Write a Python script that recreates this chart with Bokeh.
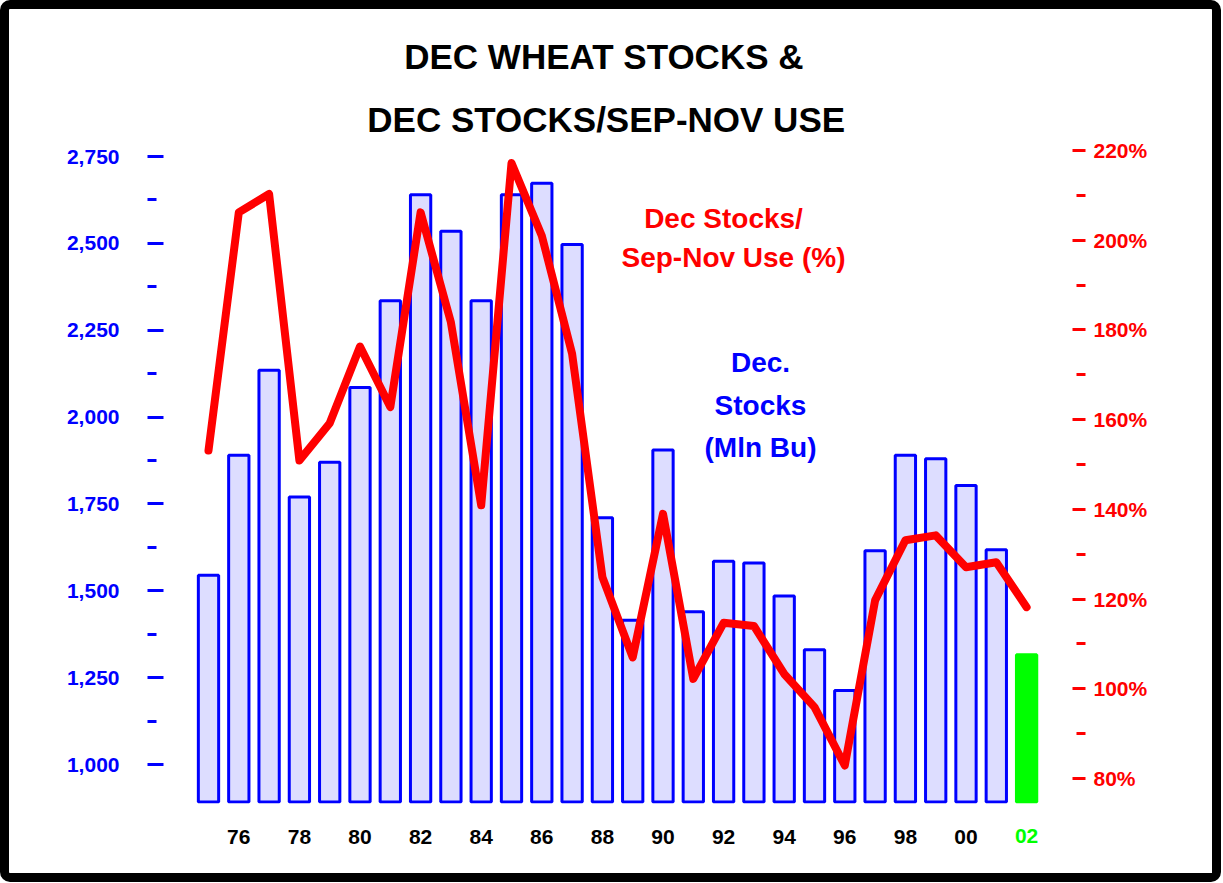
from bokeh.plotting import figure
from bokeh.models import (Range1d, LinearAxis, FixedTicker, NumeralTickFormatter,
                          PrintfTickFormatter, Label, Title)
from bokeh.embed import file_html
from bokeh.resources import INLINE

# ---------------- data ----------------
years = list(range(1975, 2003))
dec_stocks = [1545, 1890, 2135, 1770, 1870, 2085, 2335, 2640, 2535, 2335,
              2640, 2673, 2497, 1710, 1415, 1905, 1440, 1585, 1580, 1485,
              1330, 1213, 1615, 1890, 1880, 1803, 1618, 1316]
stocks_use_pct = [153.1, 206.2, 210.3, 150.9, 159.2, 176.3, 162.8, 206.2, 181.7, 140.9,
                  217.2, 201.0, 174.7, 124.9, 107.0, 139.0, 102.2, 114.7, 114.0, 103.3,
                  95.9, 82.9, 119.7, 133.1, 134.2, 127.1, 128.2, 118.2]
year_ticks = list(range(1976, 2003, 2))
year_tick_labels = ["76", "78", "80", "82", "84", "86", "88", "90",
                    "92", "94", "96", "98", "00", "02"]
stock_ticks = list(range(1000, 2751, 250))
stock_minor_ticks = list(range(1125, 2626, 250))
pct_ticks = list(range(80, 221, 20))
pct_minor_ticks = list(range(90, 211, 20))
title_lines = ["DEC WHEAT STOCKS &", "DEC STOCKS/SEP-NOV USE"]
red_note = ["Dec Stocks/", "Sep-Nov Use (%)"]
blue_note = ["Dec.", "Stocks", "(Mln Bu)"]

# ---------------- geometry (page pixels) ----------------
B = 9                       # black frame border width
W, H = 1203, 864            # figure size (inside the border)
OX, OY = B, B               # canvas origin on the page
CW, CH = W + 2 * B, H + 2 * B
FL, FR, FT, FB = 163, 1072, 140, 803  # frame edges on the page
YEAR0_PX, PX_PER_YEAR = 208.0, 30.3
L_PX_1000, L_PX_2750 = 764.0, 156.0
R_PX_80, R_PX_220 = 778.0, 150.0

kl = (L_PX_1000 - L_PX_2750) / 1750.0
kr = (R_PX_80 - R_PX_220) / 140.0

def dx(px):
    return 1975 + (px - YEAR0_PX) / PX_PER_YEAR

def dy(py):
    return 1000 + (L_PX_1000 - py) / kl

x_range = Range1d(dx(FL), dx(FR))
y_range = Range1d(dy(FB), dy(FT))
pct_range = Range1d(80 - (FB - R_PX_80) / kr, 80 + (R_PX_80 - FT) / kr)

FONT = "Liberation Sans"
BLUE = "#0000FF"
RED = "#FF0000"
GREEN = "#00FF00"
AX_FS = "21px"

p = figure(width=W, height=H, x_range=x_range, y_range=y_range,
           output_backend="svg", toolbar_location=None,
           min_border_left=FL - OX, min_border_right=(OX + CW) - FR,
           min_border_top=FT - OY, min_border_bottom=(OY + CH) - FB,
           styles={"border": f"{B}px solid black", "border-radius": "10px",
                   "box-sizing": "content-box"})
p.extra_y_ranges = {"pct": pct_range}
p.outline_line_color = None
p.xgrid.visible = False
p.ygrid.visible = False
p.background_fill_color = "white"
p.border_fill_color = "white"

# titles: p.title sits farthest from the frame, the added Title nearest
TITLE_PX = 35
title_w = [11.5 * TITLE_PX, 13.669 * TITLE_PX]   # Arial-bold metric widths
p.title.text = title_lines[0]
p.title.align = "left"
p.title.offset = 605 - title_w[0] / 2 - FL
p.title.standoff = 40
p.title.text_font = FONT
p.title.text_font_style = "bold"
p.title.text_font_size = f"{TITLE_PX}px"
p.title.text_color = "black"
p.add_layout(Title(text=title_lines[1], align="left", offset=606 - title_w[1] / 2 - FL,
                   standoff=4, text_font=FONT, text_font_style="bold",
                   text_font_size=f"{TITLE_PX}px", text_color="black"), "above")

# bars
base = dy(801.5)
p.vbar(x=years[:-1], top=dec_stocks[:-1], bottom=base, width=0.67,
       fill_color="#DDDDFF", line_color=BLUE, line_width=3)
p.vbar(x=years[-1:], top=dec_stocks[-1:], bottom=base, width=0.67,
       fill_color=GREEN, line_color=GREEN, line_width=3)

# line
p.line(years, stocks_use_pct, y_range_name="pct", line_color=RED, line_width=8,
       line_join="round", line_cap="round")

# left axis
ya = p.yaxis[0]
ya.ticker = FixedTicker(ticks=stock_ticks, minor_ticks=stock_minor_ticks)
ya.formatter = NumeralTickFormatter(format="0,0")
ya.axis_line_color = None
ya.major_tick_line_color = BLUE
ya.major_tick_line_width = 3
ya.major_tick_in = 0
ya.major_tick_out = 16
ya.minor_tick_line_color = BLUE
ya.minor_tick_line_width = 3
ya.minor_tick_in = -7
ya.minor_tick_out = 16
ya.major_label_standoff = 28
ya.major_label_text_font = FONT
ya.major_label_text_font_style = "bold"
ya.major_label_text_font_size = AX_FS
ya.major_label_text_color = BLUE

# right axis
ra = LinearAxis(y_range_name="pct",
                ticker=FixedTicker(ticks=pct_ticks, minor_ticks=pct_minor_ticks),
                formatter=PrintfTickFormatter(format="%d%%"))
ra.axis_line_color = None
ra.major_tick_line_color = RED
ra.major_tick_line_width = 3
ra.major_tick_in = 0
ra.major_tick_out = 13
ra.minor_tick_line_color = RED
ra.minor_tick_line_width = 3
ra.minor_tick_in = -4
ra.minor_tick_out = 13
ra.major_label_standoff = 8
ra.major_label_text_font = FONT
ra.major_label_text_font_style = "bold"
ra.major_label_text_font_size = AX_FS
ra.major_label_text_color = RED
p.add_layout(ra, "right")

# bottom axes
def style_x(ax, color, standoff):
    ax.axis_line_color = None
    ax.major_tick_line_color = None
    ax.minor_tick_line_color = None
    ax.major_tick_in = 0
    ax.major_tick_out = 0
    ax.minor_tick_in = 0
    ax.minor_tick_out = 0
    ax.major_label_standoff = standoff
    ax.major_label_text_font = FONT
    ax.major_label_text_font_style = "bold"
    ax.major_label_text_font_size = AX_FS
    ax.major_label_text_color = color

X_STANDOFF = 26
xa = p.xaxis[0]
xa.ticker = FixedTicker(ticks=year_ticks[:-1], minor_ticks=[])
xa.major_label_overrides = {t: lab for t, lab in zip(year_ticks[:-1], year_tick_labels[:-1])}
style_x(xa, "#000000", X_STANDOFF)

# current year label (green): second axis stacked below, pulled back up
xb = LinearAxis(ticker=FixedTicker(ticks=year_ticks[-1:], minor_ticks=[]))
xb.major_label_overrides = {year_ticks[-1]: year_tick_labels[-1]}
style_x(xb, GREEN, -18)
p.add_layout(xb, "below")

# in-plot notes
for txt, (cx, cy) in zip(red_note, [(723, 218), (733, 257)]):
    p.add_layout(Label(x=dx(cx), y=dy(cy), text=txt, text_align="center",
                       text_baseline="middle", text_font=FONT, text_font_style="bold",
                       text_font_size="28px", text_color=RED))

for txt, (cx, cy) in zip(blue_note, [(760, 362), (760, 405), (760, 447)]):
    p.add_layout(Label(x=dx(cx), y=dy(cy), text=txt, text_align="center",
                       text_baseline="middle", text_font=FONT, text_font_style="bold",
                       text_font_size="28px", text_color=BLUE))

open("out.html", "w").write(file_html(p, INLINE))
